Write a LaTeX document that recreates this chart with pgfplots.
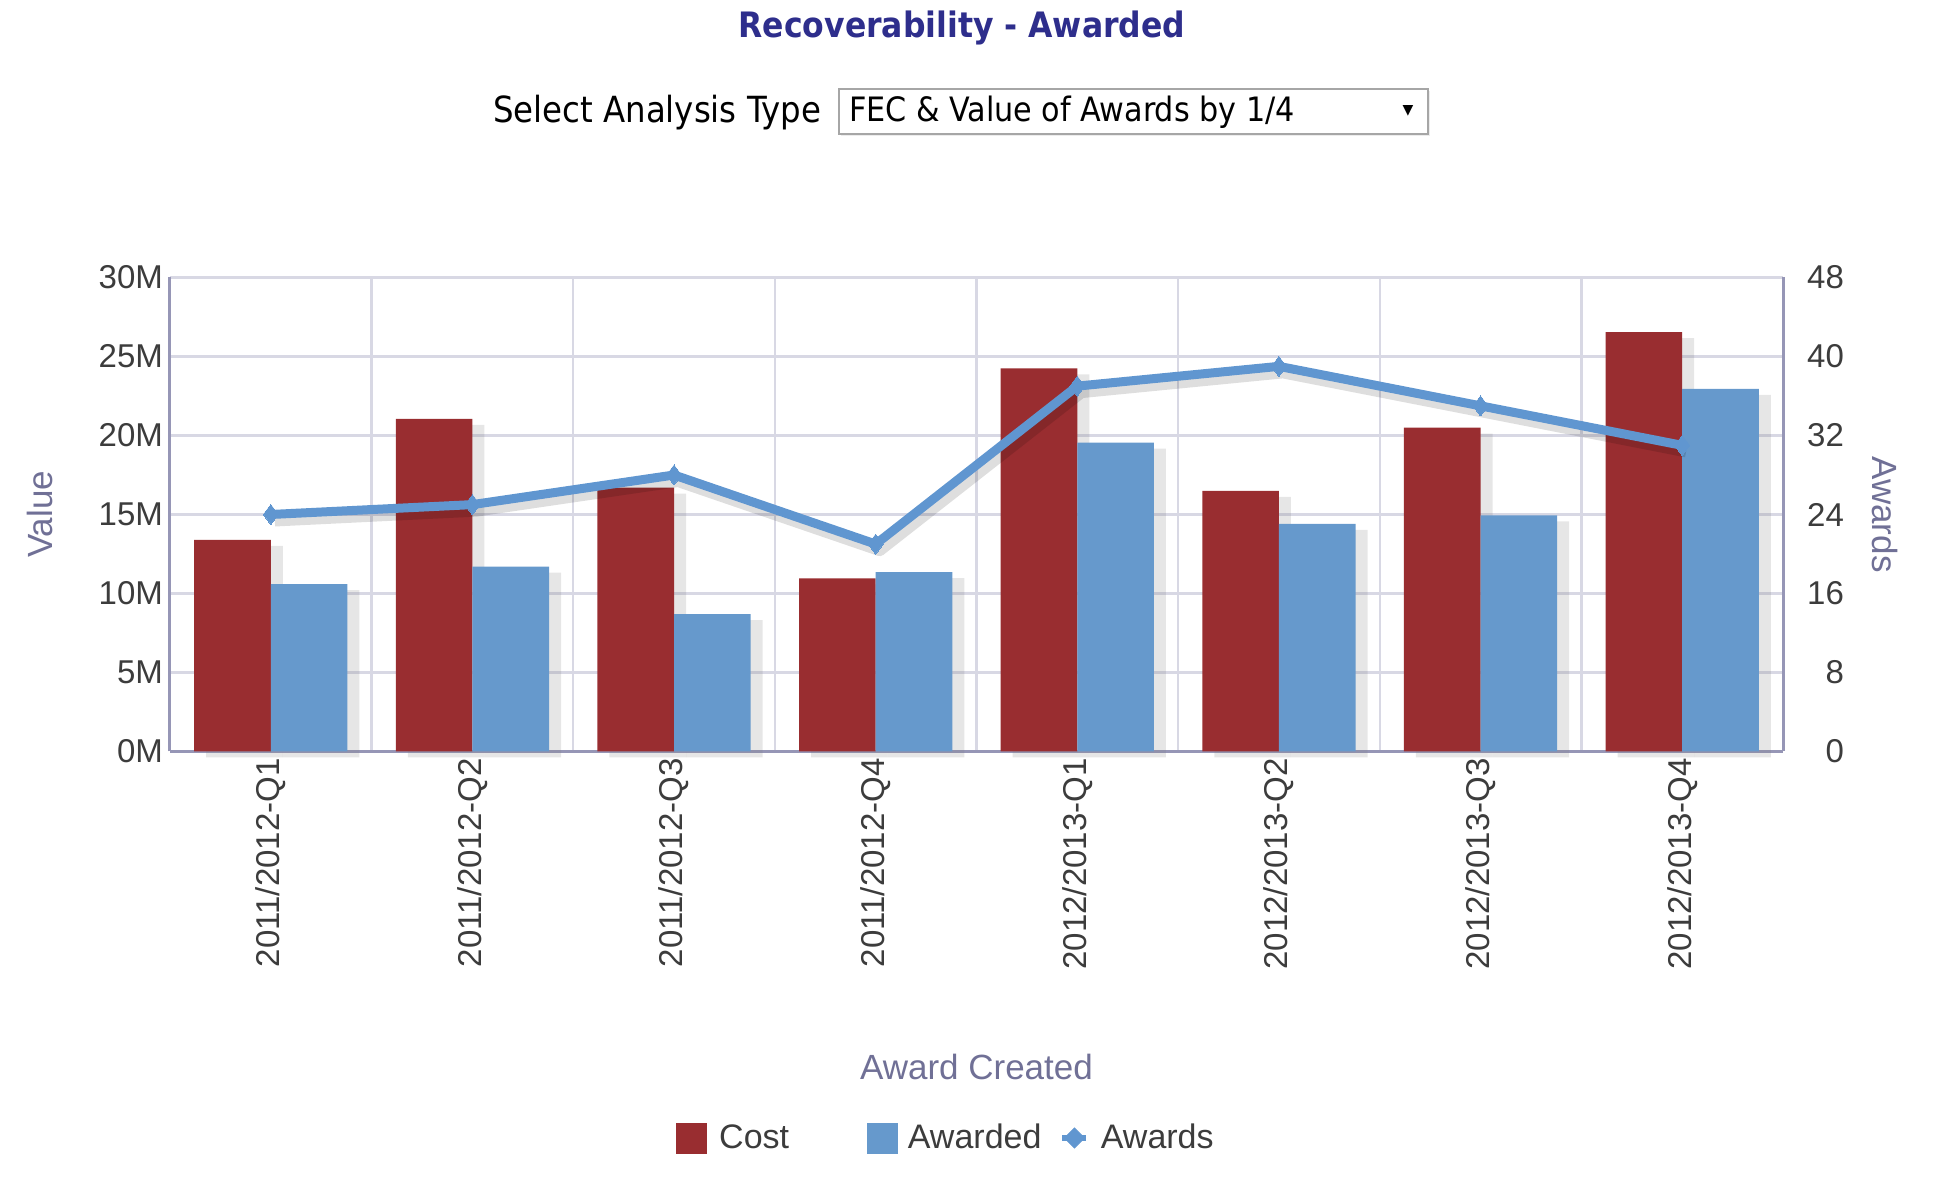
\documentclass[border=0pt]{standalone}
\usepackage{fontspec}
\usepackage{pgfplots}
\pgfplotsset{compat=1.18}
\usetikzlibrary{shadows}
\setmainfont{Liberation Sans}
\newfontfamily\tahoma{DejaVu Sans Condensed}[BoldFont={DejaVu Sans Condensed Bold}]
\newfontfamily\symfont{DejaVu Sans}

\definecolor{costred}{RGB}{153,45,48}
\definecolor{awblue}{RGB}{102,153,204}
\definecolor{lineblue}{RGB}{96,150,208}
\definecolor{gridc}{RGB}{216,216,228}
\definecolor{axisc}{RGB}{150,150,182}
\definecolor{labc}{RGB}{112,112,150}
\definecolor{tickc}{RGB}{60,60,60}
\definecolor{titleblue}{RGB}{46,46,140}

\begin{document}
\begin{tikzpicture}
\path[use as bounding box] (-85pt,-217.25pt) rectangle (882pt,375.75pt);

\pgfplotsset{
  every axis/.append style={
    at={(0,0)}, anchor=south west,
    width=806.5pt, height=237pt, scale only axis,
    xmin=-0.5, xmax=7.5, clip=false,
    major tick length=0pt, minor tick length=0pt,
    /pgf/number format/assume math mode=true,
    tick label style={font=\fontsize{16.5}{18}\selectfont, text=tickc},
    axis line style={axisc, line width=1.5pt},
  }
}

% bars, left axis (millions)
\begin{axis}[
  ymin=0, ymax=30,
  axis x line*=bottom, axis y line*=left,
  xtick={0,...,7},
  xticklabels={2011/2012-Q1,2011/2012-Q2,2011/2012-Q3,2011/2012-Q4,
               2012/2013-Q1,2012/2013-Q2,2012/2013-Q3,2012/2013-Q4},
  xticklabel style={rotate=90, anchor=east},
  minor xtick={0.5,1.5,...,6.5},
  xminorgrids,
  minor x grid style={gridc, line width=1.2pt},
  ytick={0,5,...,30},
  yticklabel={\pgfmathprintnumber{\tick}M},
  ymajorgrids,
  major y grid style={gridc, line width=1.5pt},
  every axis y label/.style={at={(axis description cs:-0.0809,0.5)}, rotate=90, anchor=center,
    font=\fontsize{17.5}{20}\selectfont, text=labc},
  ylabel={Value},
  every axis x label/.style={at={(axis description cs:0.5,-0.6656)}, anchor=center,
    font=\fontsize{17.5}{20}\selectfont, text=labc},
  xlabel={Award Created},
  legend columns=3,
  legend cell align=left,
  legend style={draw=none, fill=none, at={(axis description cs:0.3137,-0.8154)}, anchor=west,
    font=\fontsize{17}{19}\selectfont, text=tickc, inner sep=0pt,
    /tikz/column 2/.style={column sep=37pt},
    /tikz/column 4/.style={column sep=7pt}},
]
\addplot[ybar, bar width=0.38, bar shift=-0.19, fill=costred, draw=none, forget plot,
  drop shadow={shadow xshift=6pt, shadow yshift=-3pt, opacity=0.2}]
  coordinates {(0,13.4) (1,21.05) (2,16.7) (3,10.95) (4,24.25) (5,16.5) (6,20.5) (7,26.55)};
\addplot[ybar, bar width=0.38, bar shift=0.19, fill=awblue, draw=none, forget plot,
  drop shadow={shadow xshift=6pt, shadow yshift=-3pt, opacity=0.2}]
  coordinates {(0,10.6) (1,11.7) (2,8.7) (3,11.35) (4,19.55) (5,14.4) (6,14.95) (7,22.95)};

\addlegendimage{legend image code/.code={\fill[costred] (0pt,-7.5pt) rectangle (15pt,7.5pt); \path (19pt,0pt);}}
\addlegendentry{Cost}
\addlegendimage{legend image code/.code={\fill[awblue] (0pt,-7.5pt) rectangle (15pt,7.5pt); \path (18pt,0pt);}}
\addlegendentry{Awarded}
\addlegendimage{legend image code/.code={
  \draw[lineblue, line width=3pt] (0pt,0pt) -- (12pt,0pt);
  \fill[lineblue] (6pt,5pt) -- (11pt,0pt) -- (6pt,-5pt) -- (1pt,0pt) -- cycle; \path (17pt,0pt);}}
\addlegendentry{Awards}
\end{axis}

% line, right axis (count of awards)
\begin{axis}[
  ymin=0, ymax=48,
  axis x line=none, axis y line*=right,
  ytick={0,8,...,48},
  yticklabel style={anchor=east, xshift=34pt},
  every axis y label/.style={at={(axis description cs:1.0632,0.5)}, rotate=-90, anchor=center,
    font=\fontsize{17.5}{20}\selectfont, text=labc},
  ylabel={Awards},
]
\addplot[lineblue, line width=4.5pt, line join=round, mark=diamond*, mark size=5pt,
  mark options={fill=lineblue, draw=lineblue, line width=0pt},
  preaction={draw=black, draw opacity=0.13, line width=6pt,
    transform canvas={xshift=2pt, yshift=-3pt}}]
  coordinates {(0,24) (1,25) (2,28) (3,21) (4,37) (5,39) (6,35) (7,31)};
\end{axis}

% title and selector
\node[font=\tahoma\bfseries\fontsize{17.5}{20}\selectfont, text=titleblue] at (396pt,361.5pt) {Recoverability - Awarded};
\node[anchor=east, font=\tahoma\fontsize{18}{20}\selectfont] at (329pt,319.5pt) {Select Analysis Type};
\draw[black!35, fill=white, line width=0.8pt, drop shadow={shadow xshift=1pt, shadow yshift=-1pt, opacity=0.15}]
  (334.5pt,308.75pt) rectangle (629pt,331.25pt);
\node[anchor=west, font=\tahoma\fontsize{16.8}{18}\selectfont] at (336pt,319.5pt) {FEC \& Value of Awards by 1/4};
\node[font=\symfont\fontsize{7}{8}\selectfont] at (619pt,320.5pt) {▼};
\end{tikzpicture}
\end{document}
